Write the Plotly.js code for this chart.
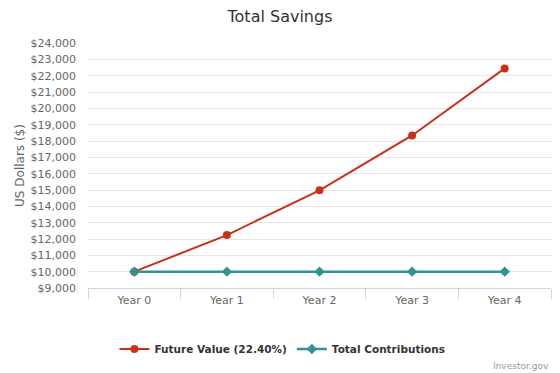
<!DOCTYPE html>
<html><head><meta charset="utf-8">
<script src="https://cdn.plot.ly/plotly-3.0.1.min.js"></script>
<style>html,body{margin:0;padding:0;background:#fff;}#chart{width:560px;height:373px;}</style>
</head><body><div id="chart"></div>
<script>
const categories = ["Year 0", "Year 1", "Year 2", "Year 3", "Year 4"];
const futureValue = [10000, 12240, 14982, 18338, 22445];
const totalContributions = [10000, 10000, 10000, 10000, 10000];
const seriesNames = ["Future Value (22.40%)", "Total Contributions"];
const tickVals = [9000,10000,11000,12000,13000,14000,15000,16000,17000,18000,19000,20000,21000,22000,23000,24000];

const font = "'DejaVu Sans', 'Lucida Grande', sans-serif";
const traces = [
  {x: categories, y: futureValue, name: seriesNames[0], type: "scatter", mode: "lines+markers",
   line: {color: "#c9301a", width: 2}, marker: {color: "#c9301a", size: 8, symbol: "circle"}},
  {x: categories, y: totalContributions, name: seriesNames[1], type: "scatter", mode: "lines+markers",
   line: {color: "#2f9494", width: 2.5}, marker: {color: "#2f9494", size: 8, symbol: "diamond"}}
];
const layout = {
  width: 560, height: 373,
  margin: {l: 88, r: 9, t: 43, b: 85, autoexpand: false},
  paper_bgcolor: "#fff", plot_bgcolor: "#fff",
  font: {family: font, color: "#666", size: 11},
  title: {text: "Total Savings", font: {family: font, size: 16, color: "#333"}, x: 0.5, xanchor: "center", y: 0.955, yanchor: "middle"},
  xaxis: {type: "category", range: [-0.5, 4.5], tickson: "boundaries", ticks: "outside", ticklen: 10,
    tickcolor: "#ccd6eb", showline: true, linecolor: "#ccd6eb", linewidth: 1, showgrid: false,
    tickfont: {family: font, size: 11, color: "#666"}, zeroline: false, fixedrange: true, ticklabelstandoff: 2},
  yaxis: {range: [9000, 24000], tickvals: tickVals, tickformat: "$,d", showgrid: true, gridcolor: "#e6e6e6",
    zeroline: false, showline: false, ticks: "", tickfont: {family: font, size: 11, color: "#666"}, ticklabelstandoff: 11,
    title: {text: "US Dollars ($)", font: {family: font, size: 12, color: "#666"}, standoff: 3}, fixedrange: true},
  legend: {orientation: "h", x: 0.42, xanchor: "center", y: -0.249, yanchor: "middle",
    font: {family: font, size: 10.5, color: "#333", weight: "bold"}, itemwidth: 30},
  showlegend: true,
  annotations: [{text: "Investor.gov", xref: "paper", yref: "paper", x: 1, xanchor: "right", y: -0.318, yanchor: "middle",
    showarrow: false, font: {family: font, size: 9, color: "#999"}}]
};
Plotly.newPlot("chart", traces, layout, {displayModeBar: false, staticPlot: true});
</script></body></html>
